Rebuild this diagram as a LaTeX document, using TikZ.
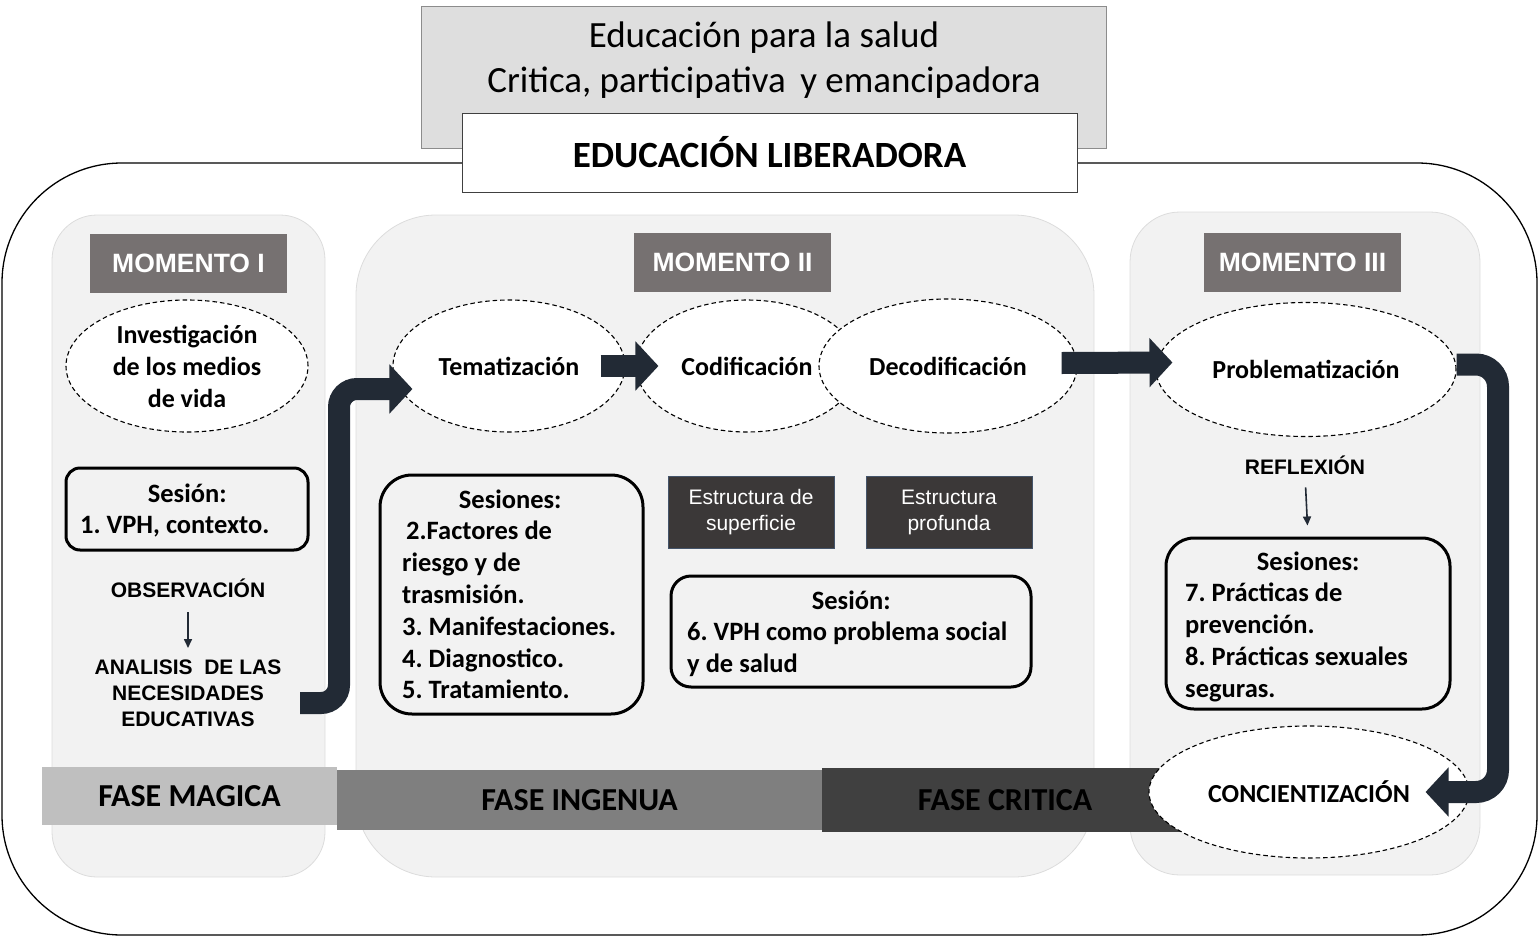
\documentclass[tikz,border=0pt]{standalone}
\usepackage{fontspec}
\setmainfont{Carlito}
\newfontfamily\arialf{Liberation Sans}
\usetikzlibrary{arrows.meta,shapes.geometric}
\definecolor{panelfill}{HTML}{F2F2F2}
\definecolor{panelline}{HTML}{DCDCDC}
\definecolor{momgray}{HTML}{767171}
\definecolor{arrowcol}{HTML}{222A35}
\definecolor{topgray}{HTML}{DEDEDE}
\definecolor{topline}{HTML}{8C8C8C}
\definecolor{phaseA}{HTML}{BFBFBF}
\definecolor{phaseB}{HTML}{7F7F7F}
\definecolor{phaseC}{HTML}{404040}
\definecolor{estfill}{HTML}{3B3838}
\definecolor{estline}{HTML}{44546A}
\frenchspacing
\begin{document}
\frenchspacing
\begin{tikzpicture}[x=1pt,y=-1pt,
  panel/.style={draw=panelline, line width=0.8pt, fill=panelfill},
  momlabel/.style={fill=momgray, text=white, font=\arialf\bfseries\fontsize{26.5}{30}\selectfont,
    minimum width=197pt, minimum height=59pt, inner sep=0pt},
  ellnode/.style={ellipse, draw=black, dash pattern=on 4.5pt off 3pt, line width=1.1pt, fill=white,
    inner sep=0pt, align=center, font=\bfseries\fontsize{26}{32}\selectfont},
  sesbox/.style={draw=black, line width=3pt, fill=panelfill, inner sep=0pt},
  sestext/.style={font=\bfseries\fontsize{26.5}{31.8}\selectfont, inner sep=0pt, anchor=base west},
  estbox/.style={fill=estfill, draw=estline, line width=1pt, text=white,
    font=\arialf\fontsize{21}{26}\selectfont, align=center,
    minimum width=166pt, minimum height=72pt, inner sep=0pt},
  smalllab/.style={font=\arialf\bfseries\fontsize{21}{26}\selectfont, align=center, inner sep=0pt},
  thinarrow/.style={draw=arrowcol, line width=1.6pt, -{Triangle[length=9pt,width=8pt]}},
  blockarrow/.style={draw=arrowcol, line width=22pt, -{Triangle[length=23pt,width=48pt]}},
  phase/.style={inner sep=0pt, text=black, font=\bfseries\fontsize{32}{36}\selectfont},
]
\useasboundingbox (0,0) rectangle (1540,937);

% outer frame
\draw[line width=1.3pt, rounded corners=120pt] (2,163) rectangle (1537,935);

% title boxes
\node[draw=topline, line width=1pt, fill=topgray, minimum width=685pt, minimum height=142pt,
  inner sep=0pt] (topbox) at (763.5,77) {};
\node[font=\fontsize{37}{45}\selectfont, align=center, inner sep=0pt] (toptext) at (764,60)
  {Educación para la salud\\Critica, participativa\, y emancipadora};
\node[draw=black!75, line width=1pt, fill=white, minimum width=615pt, minimum height=79pt,
  inner sep=0pt, font=\bfseries\fontsize{37}{40}\selectfont] (lib) at (769.5,152.5) {EDUCACIÓN LIBERADORA};

% moment panels
\draw[panel, rounded corners=45pt] (52,215) rectangle (325,877);
\draw[panel, rounded corners=80pt] (356,215) rectangle (1094,877);
\draw[panel, rounded corners=50pt] (1130,212) rectangle (1480,875);

% moment labels
\node[momlabel] (m1) at (188.5,263.5) {MOMENTO I};
\node[momlabel] (m2) at (732.5,262.5) {MOMENTO II};
\node[momlabel] (m3) at (1302.5,262.5) {MOMENTO III};

% phase bars
\node[phase, fill=phaseA, minimum width=295pt, minimum height=58pt] (f1) at (189.5,796) {FASE MAGICA};
\node[phase, fill=phaseB, minimum width=485pt, minimum height=60pt] (f2) at (579.5,800) {FASE INGENUA};
\node[phase, fill=phaseC, minimum width=358pt, minimum height=64pt] (f3) at (1001,800) {\hspace*{8pt}FASE CRITICA};

% ellipses
\node[ellnode, minimum width=242pt, minimum height=132pt] (inv) at (187,366)
  {Investigación\\de los medios\\de vida};
\node[ellnode, minimum width=232pt, minimum height=132pt] (tema) at (509,366) {Tematización};
\node[ellnode, minimum width=222pt, minimum height=132pt] (cod) at (747,366) {Codificación};
\node[ellnode, minimum width=258pt, minimum height=134pt] (decod) at (948,366) {Decodificación};
\node[ellnode, minimum width=300pt, minimum height=134pt] (prob) at (1306,369.5) {Problematización};
\node[ellnode, minimum width=320pt, minimum height=132pt, font=\bfseries\fontsize{26}{28}\selectfont]
  (conc) at (1309,792) {CONCIENTIZACIÓN};

% session boxes
\node[sesbox, rounded corners=14pt, minimum width=242pt, minimum height=82pt] (s1) at (187,509) {};
\node[sestext] (s1t) at (80,502) {\begin{tabular}[t]{@{}l@{}}\makebox[214pt]{Sesión:}\\1. VPH, contexto.\end{tabular}};

\node[sesbox, rounded corners=32pt, minimum width=263pt, minimum height=239pt] (s25) at (511.5,594.5) {};
\node[sestext] (s25t) at (402,508) {\begin{tabular}[t]{@{}l@{}}\makebox[216pt]{Sesiones:}\\
  \hspace*{4pt}2.Factores de\\riesgo y de\\trasmisión.\\3. Manifestaciones.\\4. Diagnostico.\\5. Tratamiento.\end{tabular}};

\node[sesbox, rounded corners=20pt, minimum width=360pt, minimum height=111pt] (s6) at (851,631.5) {};
\node[sestext] (s6t) at (687,609) {\begin{tabular}[t]{@{}l@{}}\makebox[328pt]{Sesión:}\\
  6. VPH como problema social\\y de salud\end{tabular}};

\node[sesbox, rounded corners=28pt, minimum width=284pt, minimum height=171pt] (s78) at (1308,623.5) {};
\node[sestext] (s78t) at (1185,570) {\begin{tabular}[t]{@{}l@{}}\makebox[246pt]{Sesiones:}\\
  7. Prácticas de\\prevención.\\8. Prácticas sexuales\\seguras.\end{tabular}};

% estructura boxes
\node[estbox] (esup) at (751,512) {Estructura de\\superficie};
\node[estbox] (eprof) at (949,512) {Estructura\\profunda};

% small labels
\node[smalllab, anchor=base] (obs) at (188,597) {OBSERVACIÓN};
\node[smalllab, anchor=north] (anal) at (188,660) {ANALISIS\ \ DE LAS\\NECESIDADES\\EDUCATIVAS};
\node[smalllab, anchor=base] (refl) at (1305,474) {REFLEXIÓN};

\draw[thinarrow, shorten <=15pt, shorten >=12pt] (obs.south) -- (anal.north);
\draw[thinarrow, shorten <=13pt, shorten >=11pt] (refl.south) -- (s78.north);

% block arrows
\coordinate (bstart) at (300,703);
\draw[blockarrow, rounded corners=18pt] (bstart) -- (339,703) -- (339,389)
  -- ([xshift=20pt,yshift=-23pt]tema.west);
\draw[blockarrow] ([xshift=-25pt]tema.east) -- ([xshift=23pt]cod.west);
\draw[blockarrow] ([xshift=-16pt,yshift=3pt]decod.east) -- ([xshift=17pt,yshift=7pt]prob.west);
\draw[blockarrow, rounded corners=22pt] ([yshift=5pt]prob.east) -- (1498,364.5) -- (1498,792)
  -- ([xshift=-44pt]conc.east);
\end{tikzpicture}
\end{document}
